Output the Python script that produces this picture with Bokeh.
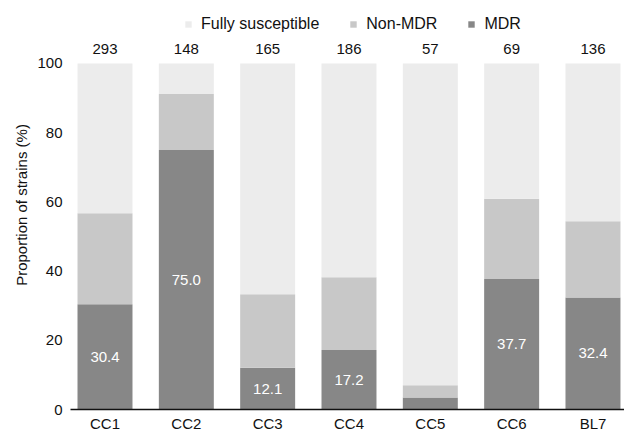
from bokeh.plotting import figure
from bokeh.models import (ColumnDataSource, Range1d, FixedTicker,
                          Legend, LegendItem)
from bokeh.core.properties import value
from bokeh.embed import file_html
from bokeh.resources import INLINE

# ---- data ----
categories = ["CC1", "CC2", "CC3", "CC4", "CC5", "CC6", "BL7"]
counts = [293, 148, 165, 186, 57, 69, 136]
mdr = [30.4, 75.0, 12.1, 17.2, 3.5, 37.7, 32.4]
non_mdr = [26.3, 16.2, 21.2, 21.0, 3.5, 23.2, 22.0]
susceptible = [43.3, 8.8, 66.7, 61.8, 93.0, 39.1, 45.6]
y_ticks = [0, 20, 40, 60, 80, 100]

FONT = "Liberation Sans"
C_MDR = "#878787"
C_NON = "#c8c8c8"
C_SUS = "#ececec"
COUNT_Y = 104.3

idx = list(range(len(categories)))
src = ColumnDataSource(dict(x=idx, mdr=mdr, non_mdr=non_mdr, susc=susceptible))

lab_x = [i for i, v in zip(idx, mdr) if v > 8]
lab_y = [v / 2 for v in mdr if v > 8]
lab_t = ["%.1f" % v for v in mdr if v > 8]
lab_src = ColumnDataSource(dict(x=lab_x, y=lab_y, t=lab_t))
cnt_src = ColumnDataSource(dict(x=idx, y=[COUNT_Y] * len(idx),
                                t=[str(n) for n in counts]))

p = figure(width=624, height=434, output_backend="svg", toolbar_location=None,
           x_range=Range1d(-0.4242, 6.3876), y_range=Range1d(0, 118.2),
           min_border_left=70, min_border_right=0, min_border_top=0,
           min_border_bottom=0, outline_line_color=None,
           background_fill_color="white", border_fill_color="white")
p.grid.visible = False

rs = p.vbar_stack(["mdr", "non_mdr", "susc"], x="x", width=0.676, source=src,
                  color=[C_MDR, C_NON, C_SUS], line_color=None)

p.text(x="x", y="y", text="t", source=lab_src, text_color="white",
       text_align="center", text_baseline="middle", text_font_size="15px",
       text_font=value(FONT))
p.text(x="x", y="y", text="t", source=cnt_src, text_color="#111111",
       text_align="center", text_baseline="middle", text_font_size="15px",
       text_font=value(FONT))

# x axis (bottom)
xa = p.xaxis[0]
xa.ticker = FixedTicker(ticks=idx)
xa.major_label_overrides = {i: c for i, c in zip(idx, categories)}
xa.major_tick_line_color = None
xa.minor_tick_line_color = None
xa.major_tick_out = 0
xa.major_tick_in = 0
xa.minor_tick_out = 0
xa.axis_line_color = "#111111"
xa.axis_line_width = 1.5
xa.major_label_standoff = 5
xa.major_label_text_font_size = "15px"
xa.major_label_text_font = FONT
xa.major_label_text_color = "#111111"

# y axis
ya = p.yaxis[0]
ya.ticker = FixedTicker(ticks=y_ticks)
ya.bounds = (0, 100)
ya.axis_line_color = None
ya.major_tick_line_color = None
ya.minor_tick_line_color = None
ya.major_tick_out = 0
ya.major_tick_in = 0
ya.minor_tick_out = 0
ya.major_label_standoff = 8
ya.major_label_text_font_size = "15px"
ya.major_label_text_font = FONT
ya.major_label_text_color = "#111111"
ya.axis_label = "Proportion of strains (%)"
ya.axis_label_text_font_style = "normal"
ya.axis_label_text_font_size = "15px"
ya.axis_label_text_font = FONT
ya.axis_label_text_color = "#111111"
ya.axis_label_standoff = 4

legend = Legend(items=[LegendItem(label="Fully susceptible", renderers=[rs[2]]),
                       LegendItem(label="Non-MDR", renderers=[rs[1]]),
                       LegendItem(label="MDR", renderers=[rs[0]])],
                orientation="horizontal", location=(114, 376),
                border_line_color=None, background_fill_alpha=0,
                glyph_width=8, glyph_height=8, label_standoff=9, spacing=30,
                padding=1, margin=0,
                label_text_font_size="16px", label_text_font=FONT,
                label_text_color="#111111")
p.add_layout(legend)

open("out.html", "w").write(file_html(p, INLINE))
